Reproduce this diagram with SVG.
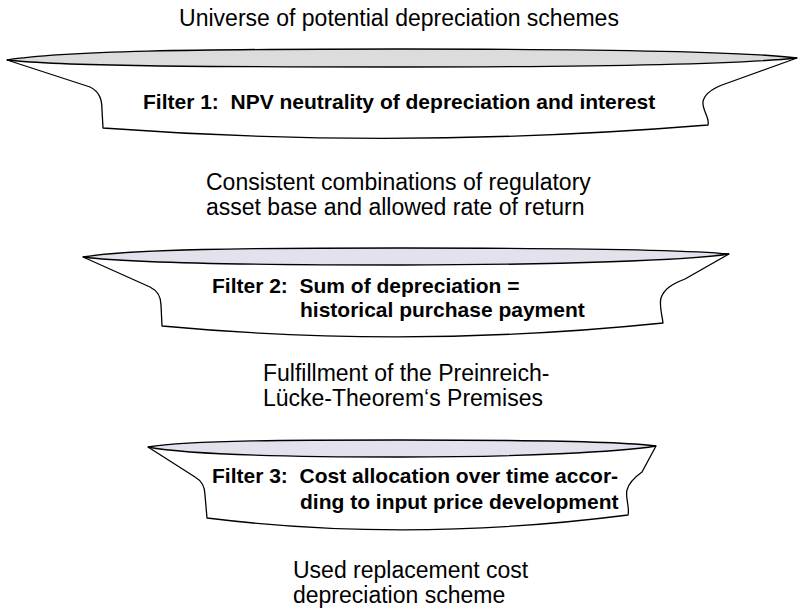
<svg xmlns="http://www.w3.org/2000/svg" width="798" height="608" viewBox="0 0 798 608">
<style>
  .body { fill: #ffffff; stroke: #000000; stroke-width: 1.3; stroke-linejoin: round; }
  .lens1 { fill: #dcdcdc; stroke: #000000; stroke-width: 1.3; }
  .lens { fill: #e2e2ec; stroke: #000000; stroke-width: 1.3; }
  .lbl { font-family: "Liberation Sans", Arial, sans-serif; font-size: 23px; fill: #000000; }
  .flt { font-family: "Liberation Sans", Arial, sans-serif; font-size: 21px; font-weight: bold; fill: #000000; white-space: pre; }
</style>
<rect x="0" y="0" width="798" height="608" fill="#ffffff"/>

<g id="label-universe">
  <text class="lbl" x="399" y="26" text-anchor="middle">Universe of potential depreciation schemes</text>
</g>

<g id="filter1">
  <path class="body" d="M7,60 L90,87 C100,92 102,100 102,110 L103,128 Q400,150 708,125 C710,118 702,110 703,102 C704,94 712,89 722,85 L797,58 Z"/>
  <path class="lens1" d="M7,60 C60,51 200,49 400,49 C600,49 740,51 797,58 C740,64 600,67 400,67 C200,67 60,66 7,60 Z"/>
  <text class="flt" x="143" y="109" xml:space="preserve">Filter 1:  NPV neutrality of depreciation and interest</text>
</g>

<g id="label-consistent">
  <text class="lbl" x="206" y="190">Consistent combinations of regulatory</text>
  <text class="lbl" x="206" y="215">asset base and allowed rate of return</text>
</g>

<g id="filter2">
  <path class="body" d="M83,257 L150,287 C158,291 161,297 161,305 L162,326 Q410,349 663,323 C662,315 659,305 661,298 C664,289 672,284 685,279 L729,254 Z"/>
  <path class="lens" d="M83,257 C130,249 250,248 400,248 C560,248 690,250 729,254 C690,260 560,265 400,265 C250,265 130,263 83,257 Z"/>
  <text class="flt" x="212" y="293" xml:space="preserve">Filter 2:  Sum of depreciation =</text>
  <text class="flt" x="300" y="317">historical purchase payment</text>
</g>

<g id="label-fulfillment">
  <text class="lbl" x="263" y="381">Fulfillment of the Preinreich-</text>
  <text class="lbl" x="263" y="406">Lücke-Theorem‘s Premises</text>
</g>

<g id="filter3">
  <path class="body" d="M148,447 L195,477 C202,481 205,487 205,495 L207,518 Q410,543 628,515 C630,508 625,497 627,490 C629,482 635,477 642,472 L656,446 Z"/>
  <path class="lens" d="M148,447 C190,440 300,440 400,440 C520,440 620,441 656,446 C620,452 520,457 400,457 C300,457 190,455 148,447 Z"/>
  <text class="flt" x="212" y="483" xml:space="preserve">Filter 3:  Cost allocation over time accor-</text>
  <text class="flt" x="300" y="509">ding to input price development</text>
</g>

<g id="label-used">
  <text class="lbl" x="293" y="578">Used replacement cost</text>
  <text class="lbl" x="293" y="603">depreciation scheme</text>
</g>
</svg>
